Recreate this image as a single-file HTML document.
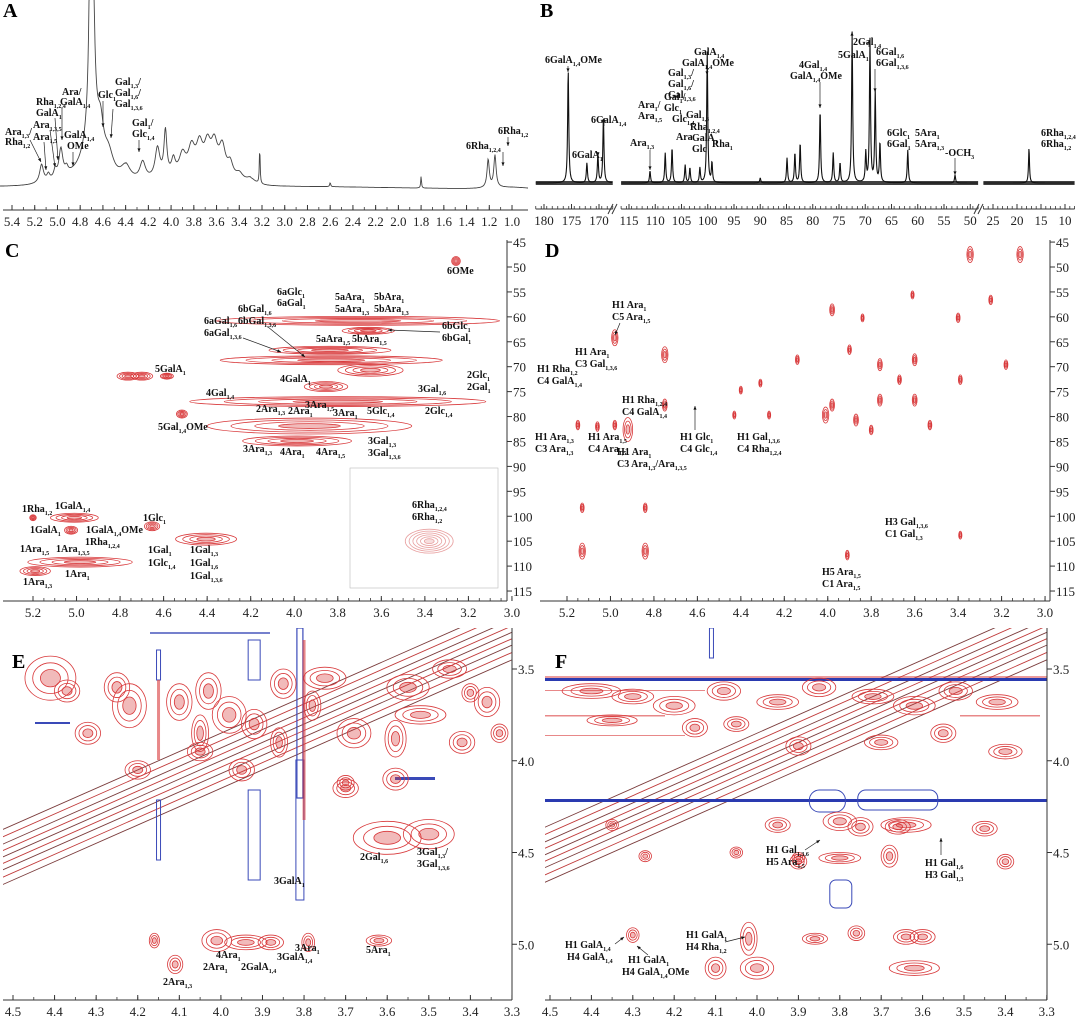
<!DOCTYPE html>
<html><head><meta charset="utf-8">
<style>
html,body{margin:0;padding:0;background:#fff;}
svg{display:block;font-family:"Liberation Serif",serif;}
.lb{font-weight:bold;font-size:10px;fill:#111;}
.tk{font-size:13px;fill:#222;}
.pl{font-weight:bold;font-size:20px;fill:#000;}
</style></head>
<body>
<svg id="fig" width="1080" height="1019" viewBox="0 0 1080 1019" xmlns="http://www.w3.org/2000/svg">
<defs>
<clipPath id="clipE"><rect x="3" y="628" width="509" height="372"/></clipPath>
<clipPath id="clipF"><rect x="545" y="628" width="502" height="372"/></clipPath>
<clipPath id="clipA"><rect x="0" y="0" width="530" height="205"/></clipPath>
</defs>
<g id="gA"></g>
<g id="gB"></g>
<g id="gC"></g>
<g id="gD"></g>
<g id="gE"></g>
<g id="gF"></g>
</svg>
<script>
// ---------- DATA ----------
// Panel A (1H): peak ppm, height (a.u.), half-width (ppm)
const aPpm = [5.14,5.08,5.02,4.97,4.92,4.70,4.69,4.62,4.55,4.40,4.25,4.12,4.05,3.98,3.90,3.82,3.75,3.68,3.62,3.55,3.48,3.40,3.30,3.22,2.60,1.80,1.21,1.15];
const aHt  = [18,6,8,28,6,600,50,30,20,15,18,30,45,15,20,25,28,28,30,30,15,8,6,38,4,12,28,32];
const aW   = [0.02,0.015,0.015,0.02,0.015,0.012,0.08,0.03,0.05,0.05,0.03,0.025,0.015,0.02,0.035,0.035,0.035,0.035,0.035,0.035,0.03,0.04,0.05,0.004,0.005,0.004,0.012,0.012];
const aTicks = [5.4,5.2,5.0,4.8,4.6,4.4,4.2,4.0,3.8,3.6,3.4,3.2,3.0,2.8,2.6,2.4,2.2,2.0,1.8,1.6,1.4,1.2,1.0];
// Panel B (13C): peak ppm and heights
const bPpm = [175.6,172.2,170.2,169.2,111,108.1,106.8,104.3,103.4,101.5,100.1,99.2,90,84.9,83.4,82.4,78.6,76.1,74.8,72.5,69.9,69.1,68.1,67.2,61.9,52.9,17.5];
const bHt  = [113,20,28,65,12,30,35,18,15,15,131,20,5,25,30,40,73,30,20,151,30,143,91,40,33,8,35];
const bTicks1 = [180,175,170];
const bTicks2 = [115,110,105,100,95,90,85,80,75,70,65,60,55,50];
const bTicks3 = [25,20,15,10];
// Panel C (HSQC): H ppm, C ppm, H half-width, C half-height
const cH  = [3.257,3.707,3.66,3.836,3.83,4.764,4.70,4.585,3.65,3.854,3.80,3.93,3.987,4.516,5.01,5.20,5.025,4.653,4.405,4.984,5.19,3.38];
const cC  = [48.8,60.8,62.8,66.7,68.7,71.9,71.9,71.9,70.7,74.0,77.0,81.9,84.9,79.5,100.3,100.3,102.8,102.0,104.6,109.2,111.0,105.0];
const cWH = [0.02,0.65,0.12,0.28,0.51,0.05,0.05,0.03,0.15,0.10,0.68,0.47,0.25,0.025,0.11,0.015,0.03,0.035,0.14,0.24,0.07,0.11];
const cWC = [0.9,0.9,0.7,0.8,0.9,0.8,0.8,0.6,1.2,1.0,1.0,1.6,1.0,0.8,0.9,0.6,0.8,0.9,1.2,1.0,0.9,2.4];
const cTicksX = [5.2,5.0,4.8,4.6,4.4,4.2,4.0,3.8,3.6,3.4,3.2,3.0];
const cTicksY = [45,50,55,60,65,70,75,80,85,90,95,100,105,110,115];
// Panel D (HMBC): H ppm, C ppm
const dH = [3.345,3.115,4.98,5.15,4.98,4.92,4.75,4.75,4.43,5.13,5.13,4.84,4.84,3.98,3.98,4.27,4.14,4.01,3.87,3.76,3.76,3.67,3.60,3.60,3.53,3.40,3.25,3.18,3.39,3.61,3.84,3.80,4.40,4.31,3.90,3.91,3.39,5.06];
const dC = [47.5,47.5,64.2,81.7,81.7,82.6,67.6,77.7,79.7,98.3,107,107,98.3,58.6,77.7,79.7,68.6,79.7,80.7,76.7,69.6,72.6,68.6,76.7,81.7,60.2,56.6,69.6,72.6,55.6,60.2,82.7,74.7,73.3,66.6,107.8,103.8,82];
const dSz = [2,2,2,1.2,1.2,3,2,1.5,1,1.2,2,2,1.2,1.5,1.5,1,1.2,2,1.5,1.5,1.5,1.2,1.5,1.5,1.2,1.2,1.2,1.2,1.2,1,1,1.2,1,1,1.2,1.2,1,1.2];
const eTicksX = [4.5,4.4,4.3,4.2,4.1,4.0,3.9,3.8,3.7,3.6,3.5,3.4,3.3];
const eTicksY = [3.5,4.0,4.5,5.0];
// Panel E (COSY) cross peaks: F2 ppm, F1 ppm, half-widths
const eX  = [4.11,4.01,3.94,3.88,3.79,4.16,3.62,3.60,3.50,4.41,4.37,3.70,3.52,3.85,4.03,3.58,3.78,3.40,4.32,4.22,4.10,4.05,3.98,3.92,3.86,3.75,3.68,3.55,3.45,3.36,4.20,4.05,3.95,3.70,3.58,3.42,3.33,4.25];
const eY  = [5.11,4.98,4.99,4.99,4.99,4.98,4.98,4.42,4.40,3.55,3.62,4.12,3.75,3.58,3.62,3.88,3.70,3.63,3.85,3.70,3.68,3.85,3.75,3.80,3.90,3.55,3.85,3.60,3.50,3.68,4.05,3.95,4.05,4.15,4.10,3.90,3.85,3.60];
const eRX = [0.018,0.035,0.05,0.03,0.015,0.012,0.03,0.08,0.06,0.06,0.03,0.02,0.06,0.03,0.03,0.025,0.02,0.02,0.03,0.04,0.03,0.02,0.04,0.03,0.02,0.05,0.04,0.05,0.04,0.03,0.03,0.03,0.03,0.03,0.03,0.03,0.02,0.03];
const eRY = [0.05,0.06,0.04,0.04,0.05,0.04,0.03,0.09,0.08,0.12,0.06,0.04,0.05,0.08,0.1,0.1,0.08,0.05,0.06,0.12,0.1,0.1,0.1,0.08,0.08,0.06,0.08,0.07,0.05,0.08,0.05,0.05,0.06,0.05,0.06,0.06,0.05,0.08];
// Panel F (NOESY) cross peaks
const fX  = [4.30,4.35,4.10,4.00,4.02,3.86,3.76,3.64,3.60,3.62,3.40,3.90,3.80,3.68,3.64,3.45,4.27,4.05,3.95,3.90,3.75,3.66,3.80,4.40,4.30,4.20,4.08,3.95,3.85,3.72,3.62,3.52,3.42,4.35,4.15,4.05,3.90,3.70,3.55,3.40];
const fY  = [4.95,4.35,5.13,5.13,4.97,4.97,4.94,4.96,4.96,5.13,4.55,4.55,4.53,4.52,4.35,4.37,4.52,4.50,4.35,4.53,4.36,4.36,4.33,3.62,3.65,3.70,3.62,3.68,3.60,3.65,3.70,3.62,3.68,3.78,3.82,3.80,3.92,3.90,3.85,3.95];
const fRX = [0.015,0.015,0.025,0.04,0.02,0.03,0.02,0.03,0.03,0.06,0.02,0.02,0.05,0.02,0.06,0.03,0.015,0.015,0.03,0.015,0.03,0.03,0.04,0.07,0.05,0.05,0.04,0.05,0.04,0.05,0.05,0.04,0.05,0.06,0.03,0.03,0.03,0.04,0.03,0.04];
const fRY = [0.04,0.03,0.06,0.06,0.09,0.03,0.04,0.04,0.04,0.04,0.04,0.04,0.03,0.06,0.04,0.04,0.03,0.03,0.04,0.03,0.05,0.04,0.05,0.04,0.04,0.05,0.05,0.04,0.05,0.04,0.05,0.05,0.04,0.03,0.05,0.04,0.05,0.04,0.05,0.04];
// ---------- HELPERS ----------
const NS='http://www.w3.org/2000/svg';
function mk(tag,attrs,parent){const e=document.createElementNS(NS,tag);for(const k in attrs)e.setAttribute(k,attrs[k]);parent.appendChild(e);return e;}
function label(g,x,y,str,anchor,cls){
  const t=mk('text',{x:x,y:y,'text-anchor':anchor||'start','class':cls||'lb'},g);
  
  
  const re=/([^{}]+)|\{([^}]*)\}/g;let m;
  while((m=re.exec(str))){
    if(m[1]){const s=mk('tspan',{},t);s.textContent=m[1];}
    else{const s=mk('tspan',{'font-size':'6','dy':'3'},t);s.textContent=m[2];const r=mk('tspan',{'dy':'-3'},t);r.textContent='\u200b';}
  }
  return t;
}
function arrow(g,x1,y1,x2,y2){
  const l=mk('line',{x1:x1,y1:y1,x2:x2,y2:y2,stroke:'#222','stroke-width':0.7},g);
  
  
  const a=Math.atan2(y2-y1,x2-x1),s=4;
  const p=mk('polygon',{points:`${x2},${y2} ${x2-s*Math.cos(a-0.4)},${y2-s*Math.sin(a-0.4)} ${x2-s*Math.cos(a+0.4)},${y2-s*Math.sin(a+0.4)}`,fill:'#111'},g);
  
  
}
function contour(g,cx,cy,rx,ry,n,col,name){
  for(let i=0;i<n;i++){
    const f=1-i/(n+0.3);
    const e=mk('ellipse',{cx:cx,cy:cy,rx:Math.max(rx*f,0.8),ry:Math.max(ry*f,0.8),fill:i==n-1?col:'none','fill-opacity':0.35,stroke:col,'stroke-width':0.8},g);
    
    
  }
}
function panelLetter(x,y,s){const t=mk('text',{x:x,y:y,'class':'pl'},document.getElementById('fig'));t.textContent=s;
  
  }
function xAxis(g,sx,ticks,y,x0,x1,fmt,minorStep,lo,hi){
  const ln=mk('line',{x1:x0,y1:y,x2:x1,y2:y,stroke:'#333','stroke-width':1},g);
  
  
  if(minorStep){for(let v=hi;v>=lo-1e-9;v-=minorStep){const tk=mk('line',{x1:sx(v),y1:y,x2:sx(v),y2:y-3,stroke:'#333','stroke-width':0.8},g);
    
    }}
  ticks.forEach(v=>{const tk=mk('line',{x1:sx(v),y1:y,x2:sx(v),y2:y-5,stroke:'#333','stroke-width':1},g);
    
    
    const t=mk('text',{x:sx(v),y:y+16,'text-anchor':'middle','class':'tk'},g);t.textContent=fmt(v);
    
    });
}
function yAxisR(g,sy,ticks,x,y0,y1,fmt,minorStep){
  const ln=mk('line',{x1:x,y1:y0,x2:x,y2:y1,stroke:'#333','stroke-width':1},g);
  
  
  ticks.forEach(v=>{const tk=mk('line',{x1:x,y1:sy(v),x2:x+5,y2:sy(v),stroke:'#333','stroke-width':1},g);
    
    
    const t=mk('text',{x:x+6,y:sy(v)+5,'class':'tk'},g);t.textContent=fmt(v);
    
    });
}
const f1=v=>v.toFixed(1), f0=v=>String(v);

// ---------- PANEL A ----------
(function(){
  const g=document.getElementById('gA');
  const xA=p=>12+(5.4-p)*113.64;
  const base=p=>187+ (p<2.6?(2.6-p)*1.5:0) - (p>3.3&&p<4.4?8*Math.exp(-Math.pow((p-3.85)/0.35,2)):0) - 6*Math.exp(-Math.pow((p-4.85)/0.25,2)) - 2*Math.exp(-Math.pow((p-1.0)/0.25,2));
  let d='';
  for(let x=0;x<=528;x+=0.5){
    const p=5.4-(x-12)/113.64;let s=0;
    for(let i=0;i<aPpm.length;i++){const u=(p-aPpm[i])/aW[i];s+=aHt[i]/(1+u*u);}
    let y=base(p)-s; if(y<-5)y=-5;
    d+=(x?'L':'M')+x.toFixed(1)+','+y.toFixed(1);
  }
  const sp=mk('path',{d:d,fill:'none',stroke:'#444','stroke-width':0.9,'clip-path':'url(#clipA)'},g);
  
  
  xAxis(g,xA,aTicks,210,3,528,f1,0.1,1.0,5.4);
  label(g,5,135,'Ara{1,3}/');label(g,5,145,'Rha{1,2}');arrow(g,30,140,41,162);
  label(g,33,140,'Ara{1,5}');arrow(g,44,142,46,170);
  label(g,33,128,'Ara{1,3,5}');arrow(g,50,130,55,167);
  label(g,36,105,'Rha{1,2,4}');label(g,36,116,'GalA{1}');arrow(g,55,118,58,160);
  label(g,62,95,'Ara/');label(g,60,105,'GalA{1,4}');arrow(g,62,108,62,140);
  label(g,64,138,'GalA{1,4}');label(g,67,149,'OMe');arrow(g,73,152,73,166);
  label(g,98,98,'Glc{1}');arrow(g,103,101,103,127);
  label(g,115,85,'Gal{1,3}/');label(g,115,96,'Gal{1,6}/');label(g,115,107,'Gal{1,3,6}');arrow(g,113,109,111,138);
  label(g,132,126,'Gal{1}/');label(g,132,137,'Glc{1,4}');arrow(g,139,140,139,152);
  label(g,466,149,'6Rha{1,2,4}');arrow(g,503,152,503,166);
  label(g,498,134,'6Rha{1,2}');arrow(g,508,137,508,146);
  panelLetter(3,17,'A');
})();

// ---------- PANEL B ----------
(function(){
  const g=document.getElementById('gB');
  const segs=[{hi:181.5,lo:167.5,x0:536,k:5.5,p0:180,px0:544},{hi:116.5,lo:48.5,x0:616,k:5.25,p0:115,px0:629},{hi:27,lo:8,x0:985,k:4.8,p0:25,px0:993}];
  const sx=(s,p)=>s.px0+(s.p0-p)*s.k;
  segs.forEach((s,si)=>{
    let d='';
    const xs=sx(s,s.hi),xe=sx(s,s.lo);
    for(let x=xs;x<=xe;x+=0.35){
      const p=s.p0-(x-s.px0)/s.k;let h=0;
      for(let i=0;i<bPpm.length;i++){const u=(p-bPpm[i])/0.12;h+=bHt[i]/(1+u*u);}
      d+=(x==xs?'M':'L')+x.toFixed(2)+','+(183-h).toFixed(1);
    }
    const sp=mk('path',{d:d,fill:'none',stroke:'#111','stroke-width':1.1},g);
    
    
    const nb=mk('rect',{x:xs,y:181,width:xe-xs,height:4,fill:'#111','fill-opacity':0.8},g);
    
    
    const tk=[bTicks1,bTicks2,bTicks3][si];
    xAxis(g,p=>sx(s,p),tk,209,xs,xe,f0,1,s.lo,s.hi);
  });
  [[610,613],[976,986]].forEach(([a,b])=>{
    for(const dx of [0,4]){const l=mk('line',{x1:a+dx-2,y1:214,x2:a+dx+3,y2:204,stroke:'#333','stroke-width':1},g);
      
      }
  });
  label(g,545,63,'6GalA{1,4}OMe');arrow(g,568,66,568,72);
  label(g,591,123,'6GalA{1,4}');arrow(g,604,126,604,118);
  label(g,572,158,'6GalA{1}');arrow(g,598,152,598,156);
  label(g,638,108,'Ara{1}/');label(g,638,119,'Ara{1,5}');
  label(g,630,146,'Ara{1,3}');arrow(g,650,150,650,170);
  label(g,664,100,'Gal{1}/');label(g,664,111,'Glc{1}');
  label(g,668,76,'Gal{1,3}/');label(g,668,87,'Gal{1,6}/');label(g,668,98,'Gal{1,3,6}');
  label(g,672,122,'Glc{1,4}');label(g,676,140,'Ara');
  label(g,686,118,'Gal{1,3}');label(g,690,130,'Rha{1,2,4}');label(g,692,141,'GalA{1}');label(g,692,152,'Glc');
  label(g,712,147,'Rha{1}');
  label(g,694,55,'GalA{1,4}');label(g,682,66,'GalA{1,4}OMe');arrow(g,707,69,707,75);
  label(g,799,68,'4Gal{1,4}');label(g,790,79,'GalA{1,4}OMe');arrow(g,820,82,820,108);
  label(g,838,58,'5GalA{1}');arrow(g,852,60,852,32);
  label(g,853,45,'2Gal{1,4}');arrow(g,869,47,869,40);
  label(g,876,55,'6Gal{1,6}');label(g,876,66,'6Gal{1,3,6}');arrow(g,875,69,875,92);
  label(g,887,136,'6Glc{1}');label(g,887,147,'6Gal{1}');
  label(g,915,136,'5Ara{1}');label(g,915,147,'5Ara{1,3}');
  label(g,945,156,'-OCH{3}');arrow(g,955,158,955,175);
  label(g,1041,136,'6Rha{1,2,4}');label(g,1041,147,'6Rha{1,2}');
  panelLetter(540,17,'B');
})();

// ---------- PANEL C ----------
const yC=c=>267+(c-50)*4.985;
(function(){
  const g=document.getElementById('gC');
  const xC=p=>33+(5.2-p)*217.7;
  for(let i=0;i<cH.length;i++){
    const col=i==cH.length-1?'#e8a0a0':'#d8383a';
    contour(g,xC(cH[i]),yC(cC[i]),cWH[i]*217.7,cWC[i]*4.985,i==cH.length-1?6:4,col,'hsqc-peak');
  }
  const ib=mk('rect',{x:350,y:468,width:148,height:120,fill:'none',stroke:'#bbb','stroke-width':0.6},g);
  
  
  xAxis(g,xC,cTicksX,601,3,507,f1,0.05,3.0,5.2);
  yAxisR(g,yC,cTicksY,507,240,601,f0);
  label(g,447,274,'6OMe');
  label(g,277,295,'6aGlc{1}');label(g,277,306,'6aGal{1}');
  label(g,335,300,'5aAra{1}');label(g,374,300,'5bAra{1}');
  label(g,335,312,'5aAra{1,3}');label(g,374,312,'5bAra{1,3}');
  label(g,238,312,'6bGal{1,6}');label(g,204,324,'6aGal{1,6}');label(g,238,324,'6bGal{1,3,6}');label(g,204,336,'6aGal{1,3,6}');
  arrow(g,243,338,281,352);arrow(g,268,327,305,357);
  label(g,316,342,'5aAra{1,5}');label(g,352,342,'5bAra{1,5}');
  label(g,442,329,'6bGlc{1}');label(g,442,341,'6bGal{1}');arrow(g,440,332,388,330);
  label(g,155,372,'5GalA{1}');
  label(g,280,382,'4GalA{1}');
  label(g,467,378,'2Glc{1}');label(g,467,390,'2Gal{1}');
  label(g,206,396,'4Gal{1,4}');label(g,418,392,'3Gal{1,6}');
  label(g,256,412,'2Ara{1,3}');label(g,288,414,'2Ara{1}');label(g,305,408,'3Ara{1,5}');label(g,333,416,'3Ara{1}');
  label(g,367,414,'5Glc{1,4}');label(g,425,414,'2Glc{1,4}');
  label(g,158,430,'5Gal{1,4}OMe');
  label(g,368,444,'3Gal{1,3}');label(g,368,456,'3Gal{1,3,6}');
  label(g,243,452,'3Ara{1,3}');label(g,280,455,'4Ara{1}');label(g,316,455,'4Ara{1,5}');
  label(g,412,508,'6Rha{1,2,4}');label(g,412,520,'6Rha{1,2}');
  label(g,22,512,'1Rha{1,2}');label(g,55,509,'1GalA{1,4}');
  label(g,143,521,'1Glc{1}');
  label(g,30,533,'1GalA{1}');label(g,86,533,'1GalA{1,4}OMe');label(g,85,545,'1Rha{1,2,4}');
  label(g,20,552,'1Ara{1,5}');label(g,56,552,'1Ara{1,3,5}');
  label(g,148,553,'1Gal{1}');label(g,148,566,'1Glc{1,4}');
  label(g,190,553,'1Gal{1,3}');label(g,190,566,'1Gal{1,6}');label(g,190,579,'1Gal{1,3,6}');
  label(g,65,577,'1Ara{1}');label(g,23,585,'1Ara{1,3}');
  panelLetter(5,257,'C');
})();

// ---------- PANEL D ----------
(function(){
  const g=document.getElementById('gD');
  const xD=p=>567+(5.2-p)*217.3;
  for(let i=0;i<dH.length;i++){
    contour(g,xD(dH[i]),yC(dC[i]),1.6*dSz[i],4*dSz[i],3,'#d8383a','hmbc-peak');
  }
  xAxis(g,xD,cTicksX,601,540,1050,f1,0.05,3.0,5.2);
  yAxisR(g,yC,cTicksY,1050,240,601,f0);
  label(g,612,308,'H1 Ara{1}');label(g,612,320,'C5 Ara{1,5}');arrow(g,620,323,615,335);
  label(g,575,355,'H1 Ara{1}');label(g,575,367,'C3 Gal{1,3,6}');
  label(g,537,372,'H1 Rha{1,2}');label(g,537,384,'C4 GalA{1,4}');
  label(g,622,403,'H1 Rha{1,2,4}');label(g,622,415,'C4 GalA{1,4}');
  label(g,535,440,'H1 Ara{1,3}');label(g,535,452,'C3 Ara{1,3}');
  label(g,588,440,'H1 Ara{1,5}');label(g,588,452,'C4 Ara{1,5}');
  label(g,617,455,'H1 Ara{1}');label(g,617,467,'C3 Ara{1,3}/Ara{1,3,5}');
  label(g,680,440,'H1 Glc{1}');label(g,680,452,'C4 Glc{1,4}');arrow(g,695,430,695,406);
  label(g,737,440,'H1 Gal{1,3,6}');label(g,737,452,'C4 Rha{1,2,4}');
  label(g,885,525,'H3 Gal{1,3,6}');label(g,885,537,'C1 Gal{1,3}');
  label(g,822,575,'H5 Ara{1,5}');label(g,822,587,'C1 Ara{1,5}');
  panelLetter(545,257,'D');
})();

// ---------- PANELS E & F ----------
const yEF=p=>669+(p-3.5)*183.5;
function twoD(gid,clip,sx,xs,ys,rxs,rys,x0,x1,blue,letter,lx){
  const g=document.getElementById(gid);
  const cg=mk('g',{'clip-path':'url(#'+clip+')'},g);
  
  
  const offs=[-0.15,-0.11,-0.07,-0.035,0,0.035,0.07,0.11,0.15];
  offs.forEach((o,i)=>{
    const l=mk('line',{x1:sx(4.6),y1:yEF(4.6+o),x2:sx(3.2),y2:yEF(3.2+o),stroke:i%2?'#c03a3a':'#7a3b3b','stroke-width':0.9},cg);
    
    
  });
  blue.forEach(b=>{
    const e=mk('rect',b,cg);
    
    
  });
  for(let i=0;i<xs.length;i++)contour(cg,sx(xs[i]),yEF(ys[i]),rxs[i]*(x1-x0)/1.2,rys[i]*183.5,3,'#d8383a','cross-peak');
  xAxis(g,sx,eTicksX,1000,x0,x1,f1,0.05,3.3,4.5);
  yAxisR(g,yEF,eTicksY,x1,628,1000,f1);
  panelLetter(lx,668,letter);
  return g;
}
(function(){
  const sx=p=>13+(4.5-p)*415.8;
  const blue=[{x:sx(3.81)-3,y:628,width:6,height:170,fill:'none',stroke:'#3a4ab8','stroke-width':1.2},
              {x:sx(3.81)-4,y:760,width:8,height:140,fill:'none',stroke:'#3a4ab8','stroke-width':1},
              {x:sx(3.92)-6,y:640,width:12,height:40,fill:'none',stroke:'#3a4ab8','stroke-width':1},
              {x:sx(3.92)-6,y:790,width:12,height:90,fill:'none',stroke:'#3a4ab8','stroke-width':1},
              {x:sx(4.15)-2,y:650,width:4,height:30,fill:'none',stroke:'#3a4ab8','stroke-width':1},
              {x:sx(4.15)-2,y:800,width:4,height:60,fill:'none',stroke:'#3a4ab8','stroke-width':1},
              {x:35,y:722,width:35,height:2,fill:'#3a4ab8'},
              {x:395,y:777,width:40,height:3,fill:'#3a4ab8'},
              {x:150,y:632,width:120,height:2,fill:'#3a4ab8','fill-opacity':0.7},
              {x:sx(3.80)-1.5,y:640,width:3,height:180,fill:'#d8383a','fill-opacity':0.6},
              {x:sx(4.15)-1.5,y:680,width:3,height:80,fill:'#d8383a','fill-opacity':0.6}];
  const g=twoD('gE','clipE',sx,eX,eY,eRX,eRY,3,512,blue,'E',12);
  label(g,360,860,'2Gal{1,6}');label(g,417,855,'3Gal{1,3}/');label(g,417,867,'3Gal{1,3,6}');
  label(g,274,884,'3GalA{1}');
  label(g,216,958,'4Ara{1}');label(g,203,970,'2Ara{1}');label(g,241,970,'2GalA{1,4}');
  label(g,277,960,'3GalA{1,4}');label(g,295,951,'3Ara{1}');label(g,366,953,'5Ara{1}');
  label(g,163,985,'2Ara{1,3}');
})();
(function(){
  const sx=p=>550+(4.5-p)*414;
  const blue=[{x:545,y:678,width:502,height:3,fill:'#2a3ab0'},
              {x:545,y:799,width:502,height:3,fill:'#2a3ab0'},
              {x:sx(3.83)-18,y:790,width:36,height:22,fill:'none',stroke:'#3a4ab8','stroke-width':1,rx:10},
              {x:sx(3.66)-40,y:790,width:80,height:20,fill:'none',stroke:'#3a4ab8','stroke-width':1,rx:8},
              {x:sx(3.80)-10,y:880,width:22,height:28,fill:'none',stroke:'#3a4ab8','stroke-width':1,rx:6},
              {x:sx(4.11)-2,y:628,width:4,height:30,fill:'none',stroke:'#3a4ab8','stroke-width':1},
              {x:545,y:676,width:502,height:2,fill:'#d8383a','fill-opacity':0.5},
              {x:545,y:715,width:120,height:1.5,fill:'#d8383a','fill-opacity':0.6},
              {x:960,y:715,width:80,height:1.5,fill:'#d8383a','fill-opacity':0.6},
              {x:545,y:690,width:160,height:1,fill:'#d8383a','fill-opacity':0.6},
              {x:545,y:735,width:140,height:1,fill:'#d8383a','fill-opacity':0.6}];
  const g=twoD('gF','clipF',sx,fX,fY,fRX,fRY,545,1047,blue,'F',555);
  label(g,766,853,'H1 Gal{1,3,6}');label(g,766,865,'H5 Ara{1,5}');arrow(g,805,850,820,840);
  label(g,925,866,'H1 Gal{1,6}');label(g,925,878,'H3 Gal{1,3}');arrow(g,941,855,941,838);
  label(g,686,938,'H1 GalA{1}');label(g,686,950,'H4 Rha{1,2}');arrow(g,725,942,745,937);
  label(g,565,948,'H1 GalA{1,4}');label(g,567,960,'H4 GalA{1,4}');arrow(g,615,944,624,937);
  label(g,628,963,'H1 GalA{1}');label(g,622,975,'H4 GalA{1,4}OMe');arrow(g,648,955,637,946);
})();
</script>
</body></html>
